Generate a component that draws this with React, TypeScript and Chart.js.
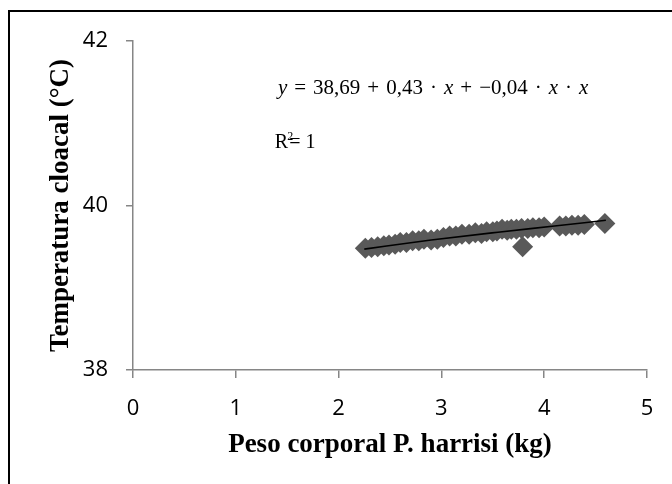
import React, { useEffect, useRef } from "react";
import { Chart, registerables } from "chart.js";

Chart.register(...registerables);

// Body weight (kg) and cloacal temperature (°C)
const weightKg = [2.26, 2.32, 2.38, 2.44, 2.49, 2.55, 2.6, 2.66, 2.72, 2.78, 2.83, 2.9, 2.96, 3.02, 3.08, 3.14, 3.2, 3.27, 3.33, 3.39, 3.44, 3.5, 3.54, 3.59, 3.64, 3.68, 3.73, 3.78, 3.79, 3.84, 3.89, 3.95, 4.0, 4.15, 4.21, 4.27, 4.33, 4.39, 4.59];
const tempC = [39.48, 39.49, 39.5, 39.51, 39.52, 39.53, 39.55, 39.55, 39.57, 39.57, 39.59, 39.58, 39.59, 39.61, 39.63, 39.63, 39.65, 39.65, 39.67, 39.66, 39.68, 39.68, 39.69, 39.71, 39.7, 39.71, 39.71, 39.72, 39.5, 39.72, 39.73, 39.73, 39.74, 39.75, 39.75, 39.76, 39.76, 39.77, 39.78];

// Trend line
const trendX = [2.25, 2.9, 3.55, 4.1, 4.6];
const trendY = [39.47, 39.58, 39.675, 39.75, 39.82];

const xTicks = [0, 1, 2, 3, 4, 5];
const yTicks = [38, 40, 42];

const xTitle = "Peso corporal P. harrisi (kg)";
const yTitle = "Temperatura cloacal (°C)";

const S = "\u2004";
const eqRuns: [string, boolean][] = [
  ["y", true],
  [`${S}=${S}38,69${S}+${S}0,43${S}·${S}`, false],
  ["x", true],
  [`${S}+${S}−0,04${S}·${S}`, false],
  ["x", true],
  [`${S}·${S}`, false],
  ["x", true],
];

const annotationPlugin = {
  id: "eqAnnot",
  afterDatasetsDraw(chart: any) {
    const { ctx, scales } = chart;
    const xs = scales.x;
    const ys = scales.y;
    ctx.save();
    ctx.fillStyle = "#000";
    ctx.textBaseline = "alphabetic";
    ctx.textAlign = "left";
    // equation
    let px = xs.getPixelForValue(1.41);
    const py = ys.getPixelForValue(41.36);
    for (const [t, it] of eqRuns) {
      ctx.font = `${it ? "italic " : ""}21px "Liberation Serif"`;
      ctx.fillText(t, px, py);
      px += ctx.measureText(t).width;
    }
    // R²
    const rx = xs.getPixelForValue(1.38);
    const ry = ys.getPixelForValue(40.7);
    ctx.font = `20px "Liberation Serif"`;
    ctx.fillText("R", rx, ry);
    const rw = ctx.measureText("R").width;
    ctx.font = `12px "Liberation Serif"`;
    ctx.fillText("2", rx + rw - 1, ry - 8);
    ctx.font = `20px "Liberation Serif"`;
    ctx.fillText("= 1", rx + rw + 1, ry);
    ctx.restore();
  },
};

export default function App() {
  const ref = useRef<HTMLCanvasElement>(null);
  useEffect(() => {
    if (!ref.current) return;
    const chart = new Chart(ref.current, {
      type: "scatter",
      data: {
        datasets: [
          {
            type: "line",
            data: trendX.map((x, i) => ({ x, y: trendY[i] })),
            borderColor: "#000",
            borderWidth: 1.6,
            pointRadius: 0,
            cubicInterpolationMode: "monotone",
            fill: false,
            order: 0,
          } as any,
          {
            type: "scatter",
            data: weightKg.map((x, i) => ({ x, y: tempC[i] })),
            pointStyle: "rectRot",
            pointRadius: 10.5,
            backgroundColor: "#595959",
            borderColor: "#595959",
            borderWidth: 0,
            order: 1,
          } as any,
        ],
      },
      options: {
        responsive: false,
        animation: false,
        events: [],
        layout: { padding: { left: 0, right: 25, top: 41, bottom: 0 } },
        plugins: { legend: { display: false }, tooltip: { enabled: false } },
        scales: {
          x: {
            type: "linear",
            min: 0,
            max: 5,
            afterFit: (s: any) => {
              s.height = 114;
            },
            afterBuildTicks: (s: any) => {
              s.ticks = xTicks.map((v) => ({ value: v }));
            },
            ticks: {
              font: { family: "Open Sans", size: 22 },
              color: "#000",
              padding: 18,
            },
            grid: { drawOnChartArea: false, tickLength: 8, color: "#868686", lineWidth: 1.5 },
            border: { color: "#868686", width: 1.5 },
            title: {
              display: true,
              text: xTitle,
              color: "#000",
              font: { family: "Liberation Serif", size: 27, weight: "bold" },
              padding: { top: 0, bottom: 23 },
            },
          },
          y: {
            type: "linear",
            min: 38,
            max: 42,
            afterFit: (s: any) => {
              s.width = 133;
            },
            afterBuildTicks: (s: any) => {
              s.ticks = yTicks.map((v) => ({ value: v }));
            },
            ticks: {
              font: { family: "Open Sans", size: 22 },
              color: "#000",
              padding: 18,
            },
            grid: { drawOnChartArea: false, tickLength: 7, color: "#868686", lineWidth: 1.5 },
            border: { color: "#868686", width: 1.5 },
            title: {
              display: true,
              text: yTitle,
              color: "#000",
              font: { family: "Liberation Serif", size: 27, weight: "bold" },
              padding: { top: 45, bottom: 0 },
            },
          },
        },
      },
      plugins: [annotationPlugin],
    });
    return () => chart.destroy();
  }, []);

  return (
    <div style={{ position: "fixed", left: 0, top: 0, width: 672, height: 484, overflow: "hidden", background: "#fff" }}>
      <div
        style={{
          position: "absolute",
          left: 8,
          top: 10,
          width: 720,
          height: 520,
          borderLeft: "2px solid #000",
          borderTop: "2px solid #000",
        }}
      />
      <canvas ref={ref} width={672} height={484} style={{ position: "absolute", left: 0, top: 0 }} />
    </div>
  );
}
